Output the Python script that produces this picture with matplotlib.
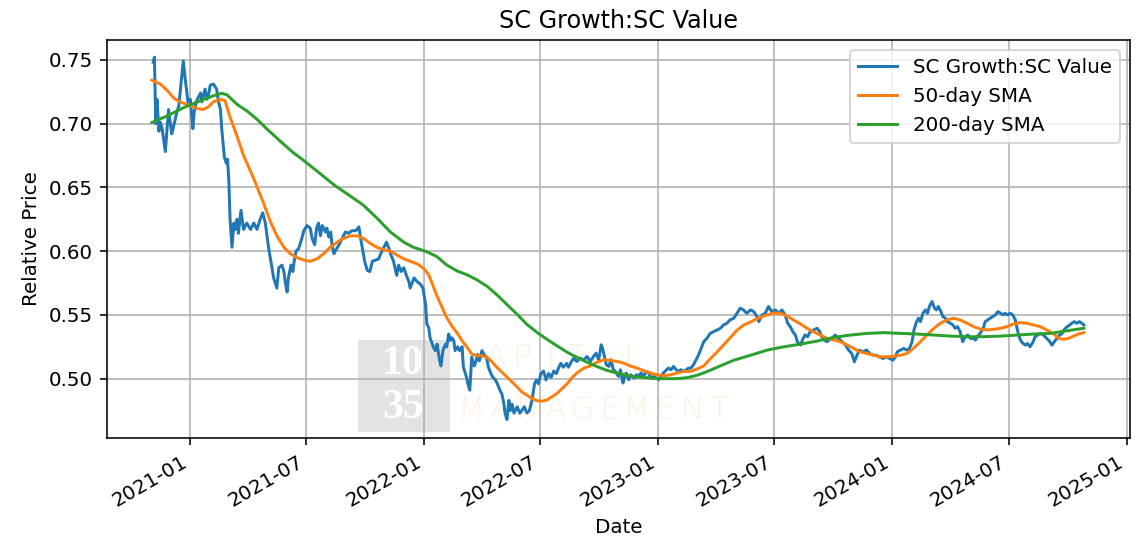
import numpy as np
import pandas as pd
import matplotlib
matplotlib.use("Agg")
import matplotlib.pyplot as plt
import matplotlib.dates as mdates
from matplotlib.patches import Rectangle

# ---------------- data (day offsets from 2021-01-01) ----------------
base_date = "2021-01-01"

price_days = [-58, -56, -54, -52, -49, -47, -44, -39, -34, -29, -26, -21, -18, -11, -8, -3, 0, 4, 6, 10,
              16, 18, 21, 23, 26, 29, 31, 36, 41, 44, 47, 49, 53, 56, 58, 60, 62, 65, 68, 70,
              73, 75, 79, 83, 88, 94, 99, 104, 109, 113, 117, 122, 125, 130, 135, 138, 143, 146, 148, 151,
              153, 157, 160, 162, 165, 169, 174, 177, 182, 187, 190, 194, 197, 200, 203, 206, 211, 213, 216, 219,
              221, 224, 226, 232, 237, 242, 247, 252, 258, 263, 265, 270, 272, 276, 280, 284, 289, 294, 297, 302,
              306, 310, 313, 317, 322, 325, 329, 333, 337, 341, 343, 349, 354, 359, 363, 367, 369, 372, 374, 379,
              382, 385, 389, 391, 394, 398, 400, 403, 406, 408, 411, 413, 417, 420, 424, 426, 431, 433, 436, 439,
              443, 446, 448, 451, 455, 458, 462, 465, 469, 472, 476, 479, 483, 486, 489, 491, 494, 497, 499, 502,
              505, 510, 514, 517, 521, 525, 529, 533, 537, 540, 543, 547, 551, 555, 559, 563, 567, 571, 575, 578,
              582, 587, 590, 594, 598, 603, 608, 614, 619, 624, 629, 633, 637, 641, 643, 646, 649, 653, 656, 660,
              663, 668, 671, 675, 677, 680, 684, 687, 692, 696, 699, 703, 707, 711, 715, 719, 723, 727, 731, 734,
              738, 743, 746, 750, 754, 758, 762, 765, 770, 774, 777, 781, 785, 789, 793, 797, 801, 806, 811, 816,
              822, 827, 832, 837, 842, 848, 853, 858, 863, 868, 874, 879, 884, 887, 892, 897, 902, 907, 913, 918,
              923, 928, 932, 936, 940, 944, 947, 952, 956, 959, 963, 967, 972, 978, 982, 985, 989, 993, 997, 1001,
              1006, 1011, 1017, 1022, 1027, 1032, 1036, 1040, 1044, 1049, 1055, 1060, 1065, 1070, 1075, 1081, 1086, 1091, 1096, 1100,
              1103, 1108, 1113, 1118, 1122, 1126, 1129, 1133, 1136, 1139, 1143, 1147, 1150, 1153, 1157, 1161, 1164, 1167, 1171, 1174,
              1178, 1181, 1186, 1190, 1193, 1197, 1201, 1205, 1209, 1213, 1217, 1221, 1225, 1228, 1232, 1237, 1240, 1244, 1248, 1252,
              1256, 1260, 1264, 1268, 1271, 1275, 1279, 1283, 1287, 1291, 1295, 1299, 1303, 1306, 1310, 1315, 1318, 1322, 1326, 1331,
              1336, 1341, 1344, 1348, 1352, 1356, 1360, 1363, 1368, 1372, 1375, 1379, 1383, 1387, 1391, 1394]
price_vals = [0.748, 0.752, 0.700, 0.719, 0.694, 0.701, 0.696, 0.678, 0.711, 0.692, 0.698, 0.709, 0.714, 0.749, 0.735, 0.714, 0.719, 0.696, 0.709, 0.718,
              0.724, 0.717, 0.723, 0.727, 0.719, 0.724, 0.730, 0.731, 0.727, 0.717, 0.711, 0.696, 0.674, 0.669, 0.672, 0.656, 0.625, 0.603, 0.622, 0.617,
              0.625, 0.614, 0.632, 0.617, 0.622, 0.617, 0.622, 0.617, 0.625, 0.630, 0.622, 0.603, 0.594, 0.579, 0.571, 0.587, 0.589, 0.584, 0.576, 0.568,
              0.579, 0.589, 0.584, 0.592, 0.600, 0.602, 0.610, 0.616, 0.620, 0.618, 0.610, 0.605, 0.618, 0.622, 0.612, 0.620, 0.615, 0.618, 0.611, 0.615,
              0.605, 0.598, 0.600, 0.605, 0.610, 0.615, 0.614, 0.616, 0.616, 0.619, 0.612, 0.598, 0.592, 0.585, 0.584, 0.592, 0.593, 0.594, 0.598, 0.603,
              0.607, 0.602, 0.597, 0.592, 0.581, 0.589, 0.584, 0.587, 0.581, 0.576, 0.571, 0.579, 0.576, 0.574, 0.571, 0.558, 0.543, 0.540, 0.532, 0.525,
              0.522, 0.527, 0.514, 0.510, 0.522, 0.527, 0.525, 0.535, 0.530, 0.532, 0.530, 0.522, 0.525, 0.522, 0.525, 0.509, 0.501, 0.496, 0.491, 0.517,
              0.510, 0.514, 0.519, 0.514, 0.522, 0.519, 0.517, 0.509, 0.504, 0.501, 0.499, 0.496, 0.491, 0.488, 0.481, 0.473, 0.468, 0.483, 0.475, 0.480,
              0.473, 0.478, 0.473, 0.475, 0.478, 0.473, 0.475, 0.483, 0.496, 0.499, 0.496, 0.504, 0.506, 0.499, 0.504, 0.501, 0.506, 0.504, 0.509, 0.512,
              0.509, 0.512, 0.509, 0.513, 0.516, 0.5135, 0.516, 0.5148, 0.5174, 0.5135, 0.5174, 0.520, 0.5148, 0.5266, 0.524, 0.5174, 0.5109, 0.5096, 0.5148, 0.507,
              0.5057, 0.5018, 0.507, 0.4966, 0.5005, 0.5044, 0.4992, 0.5031, 0.5005, 0.5031, 0.5018, 0.5044, 0.5018, 0.5057, 0.5044, 0.5005, 0.5018, 0.5005, 0.4992, 0.5018,
              0.5044, 0.507, 0.5083, 0.507, 0.5096, 0.507, 0.5057, 0.507, 0.5057, 0.507, 0.5083, 0.5083, 0.5109, 0.5148, 0.5187, 0.5239, 0.529, 0.5316, 0.5355, 0.5368,
              0.5382, 0.5395, 0.5421, 0.5434, 0.5461, 0.5474, 0.5513, 0.5553, 0.5539, 0.5513, 0.5539, 0.5526, 0.5487, 0.5447, 0.550, 0.5513, 0.5566, 0.5526, 0.5539, 0.5513,
              0.5539, 0.550, 0.5434, 0.5408, 0.5368, 0.5342, 0.529, 0.5263, 0.5316, 0.5342, 0.5329, 0.5368, 0.5382, 0.5395, 0.5368, 0.5329, 0.5303, 0.529, 0.5303, 0.5316,
              0.5342, 0.5316, 0.529, 0.5263, 0.5224, 0.5197, 0.5132, 0.5184, 0.5224, 0.5211, 0.5224, 0.5197, 0.5184, 0.5184, 0.5171, 0.5158, 0.5171, 0.5158, 0.5145, 0.5171,
              0.5211, 0.5224, 0.5237, 0.5224, 0.5237, 0.529, 0.5382, 0.5447, 0.5474, 0.5447, 0.5513, 0.5539, 0.5513, 0.5566, 0.5605, 0.5553, 0.5539, 0.5566, 0.5526, 0.5487,
              0.5474, 0.5447, 0.5434, 0.5421, 0.5395, 0.5408, 0.5368, 0.529, 0.5329, 0.5342, 0.5316, 0.5316, 0.5303, 0.5329, 0.5355, 0.5395, 0.5447, 0.5461, 0.5474, 0.5487,
              0.550, 0.5526, 0.5513, 0.550, 0.5513, 0.550, 0.5513, 0.550, 0.5461, 0.5368, 0.5303, 0.5276, 0.5263, 0.5276, 0.525, 0.529, 0.5329, 0.5342, 0.5355, 0.5342,
              0.5316, 0.529, 0.5263, 0.529, 0.5316, 0.5342, 0.5355, 0.5382, 0.5408, 0.5421, 0.5434, 0.5447, 0.5434, 0.5447, 0.5434, 0.5421]

sma50_days = [-60, -47, -36, -26, -16, 0, 10, 20, 28, 36, 46, 54, 62, 73, 83, 98, 114, 125, 135, 146,
              156, 166, 177, 187, 198, 208, 218, 229, 239, 250, 260, 270, 281, 291, 302, 312, 322, 333, 343, 354,
              364, 372, 377, 385, 393, 400, 408, 416, 424, 432, 439, 447, 455, 463, 471, 478, 486, 494, 502, 510,
              517, 525, 533, 541, 549, 556, 564, 572, 580, 588, 595, 603, 614, 624, 634, 645, 655, 666, 676, 686,
              697, 707, 718, 728, 738, 749, 759, 770, 780, 790, 801, 811, 822, 832, 842, 853, 863, 874, 884, 894,
              904, 910, 920, 931, 941, 952, 962, 972, 983, 993, 1004, 1014, 1025, 1035, 1045, 1056, 1066, 1076, 1087, 1097,
              1108, 1118, 1128, 1139, 1149, 1160, 1170, 1180, 1191, 1201, 1212, 1222, 1232, 1243, 1253, 1264, 1274, 1284, 1295, 1305,
              1316, 1326, 1336, 1347, 1355, 1362, 1370, 1378, 1386, 1394]
sma50_vals = [0.734, 0.731, 0.726, 0.720, 0.717, 0.714, 0.712, 0.711, 0.713, 0.717, 0.719, 0.718, 0.705, 0.690, 0.675, 0.658, 0.638, 0.623, 0.612, 0.603,
              0.598, 0.595, 0.593, 0.592, 0.594, 0.598, 0.603, 0.607, 0.610, 0.612, 0.612, 0.610, 0.606, 0.603, 0.601, 0.600, 0.597, 0.594, 0.592, 0.590,
              0.5865, 0.5814, 0.575, 0.5646, 0.5556, 0.5478, 0.5413, 0.536, 0.5297, 0.5245, 0.5194, 0.518, 0.518, 0.5168, 0.513, 0.509, 0.5052, 0.5013, 0.4974, 0.4935,
              0.4897, 0.4871, 0.4845, 0.4827, 0.4824, 0.4832, 0.4858, 0.4884, 0.4922, 0.4961, 0.5005, 0.5044, 0.5083, 0.510, 0.5128, 0.5148, 0.5143, 0.5135, 0.5122, 0.510,
              0.5083, 0.5063, 0.5044, 0.5031, 0.5023, 0.503, 0.5044, 0.5057, 0.5057, 0.5075, 0.510, 0.5155, 0.521, 0.5265, 0.532, 0.538, 0.542, 0.5445, 0.547, 0.549,
              0.5505, 0.5515, 0.5513, 0.5492, 0.546, 0.5429, 0.5395, 0.5368, 0.5342, 0.5316, 0.5303, 0.529, 0.5263, 0.5237, 0.521, 0.5197, 0.5184, 0.5171, 0.5171, 0.5176,
              0.5184, 0.5197, 0.5237, 0.529, 0.5342, 0.5395, 0.5434, 0.546, 0.5474, 0.546, 0.5434, 0.5408, 0.539, 0.5382, 0.5387, 0.5395, 0.5408, 0.5429, 0.544, 0.5434,
              0.5421, 0.5408, 0.5382, 0.535, 0.5316, 0.5308, 0.5316, 0.5334, 0.535, 0.5361]

sma200_days = [-60, -36, -10, 16, 36, 49, 57, 73, 88, 104, 120, 140, 161, 172, 198, 224, 250, 270, 291, 312,
               333, 348, 369, 385, 400, 416, 432, 447, 463, 478, 494, 510, 525, 541, 556, 572, 588, 603, 619, 634,
               650, 666, 681, 697, 712, 728, 744, 759, 775, 790, 806, 822, 848, 874, 900, 926, 952, 978, 1004, 1030,
               1056, 1082, 1108, 1134, 1160, 1186, 1212, 1238, 1264, 1290, 1316, 1342, 1368, 1394]
sma200_vals = [0.7008, 0.706, 0.7126, 0.718, 0.7218, 0.7237, 0.7226, 0.715, 0.710, 0.7034, 0.6955, 0.6863, 0.677, 0.673, 0.6626, 0.652, 0.643, 0.636, 0.626, 0.615,
               0.607, 0.603, 0.5995, 0.5956, 0.5891, 0.5845, 0.5814, 0.5775, 0.5724, 0.5659, 0.5581, 0.5504, 0.5426, 0.5362, 0.531, 0.5258, 0.5207, 0.5168, 0.5129, 0.5096,
               0.5065, 0.5044, 0.5026, 0.5013, 0.5008, 0.500, 0.500, 0.500, 0.5008, 0.5026, 0.5055, 0.509, 0.5145, 0.5184, 0.5224, 0.525, 0.5271, 0.5295, 0.5324, 0.5342,
               0.5355, 0.5361, 0.5355, 0.535, 0.5342, 0.5334, 0.5329, 0.5329, 0.5334, 0.5342, 0.535, 0.5355, 0.5376, 0.5395]

series_labels = ["SC Growth:SC Value", "50-day SMA", "200-day SMA"]
tick_months = [1, 7]


def to_dates(days):
    return pd.Timestamp(base_date) + pd.to_timedelta(days, unit="D")


# ---------------- figure ----------------
DPI = 143
fig = plt.figure(figsize=(1144 / DPI, 540 / DPI), dpi=DPI)
ax = fig.add_subplot(111)

ax.plot(to_dates(price_days), price_vals, color="#1f77b4", lw=1.5, label=series_labels[0], zorder=2)
ax.plot(to_dates(sma50_days), sma50_vals, color="#ff7f0e", lw=1.5, label=series_labels[1], zorder=2.1)
ax.plot(to_dates(sma200_days), sma200_vals, color="#2ca02c", lw=1.5, label=series_labels[2], zorder=2.2)

ax.set_xlim(to_dates([-130])[0], to_dates([1466])[0])
ax.set_ylim(0.4535, 0.7655)
ax.xaxis.set_major_locator(mdates.MonthLocator(bymonth=tick_months))
ax.xaxis.set_major_formatter(mdates.DateFormatter("%Y-%m"))
ax.grid(True)
ax.set_title("SC Growth:SC Value")
ax.set_xlabel("Date")
ax.set_ylabel("Relative Price")
ax.legend(loc="upper right")

for lab in ax.get_xticklabels():
    lab.set_rotation(30)
    lab.set_ha("right")

fig.subplots_adjust(left=107 / 1144, right=1130 / 1144, bottom=1 - 438 / 540, top=1 - 40 / 540)

# ---------------- watermark ----------------
W, H = 1144.0, 540.0
def fx(px):
    return px / W
def fy(py):
    return 1 - py / H

box = Rectangle((fx(358), fy(432)), (450 - 358) / W, (432 - 340) / H, transform=fig.transFigure,
                facecolor="#dcdcdc", edgecolor="none", alpha=0.8, zorder=1)
ax.add_artist(box)
box.set_clip_on(False)
for txt, py in [("10", 364), ("35", 408)]:
    ax.text(fx(403), fy(py), txt, transform=fig.transFigure, ha="center", va="center",
            fontsize=21, fontweight="bold", family="Liberation Serif", color="white", zorder=1.2)
wm_color = "#fcf2e0"
for i, ch in enumerate("CAPITAL"):
    ax.text(fx(467 + 27.5 * i), fy(358), ch, transform=fig.transFigure, ha="center", va="center",
            fontsize=16, fontweight="light", family="DejaVu Sans", color=wm_color, zorder=1.2)
for i, ch in enumerate("MANAGEMENT"):
    ax.text(fx(472 + 27.5 * i), fy(410), ch, transform=fig.transFigure, ha="center", va="center",
            fontsize=16, fontweight="light", family="DejaVu Sans", color=wm_color, zorder=1.2)

fig.savefig("out.png", dpi=DPI)
